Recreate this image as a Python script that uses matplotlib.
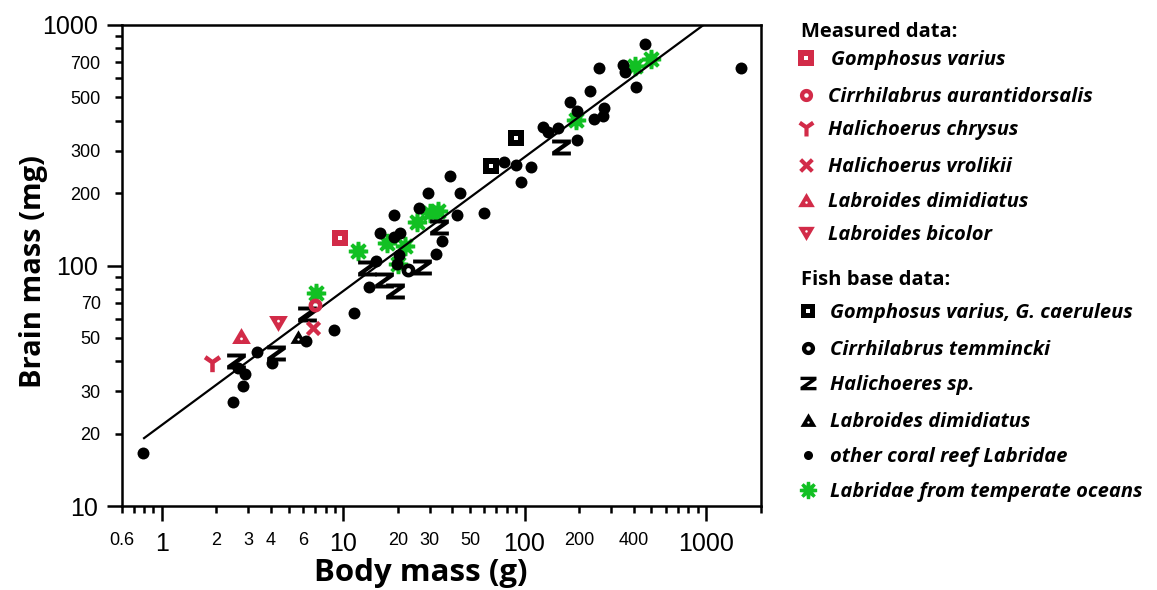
import matplotlib
matplotlib.use("Agg")
import matplotlib.pyplot as plt
import numpy as np
from matplotlib.path import Path
from matplotlib.ticker import FixedLocator, FuncFormatter

# ---------------- data (body mass g, brain mass mg) ----------------
other_x = [0.79, 2.48, 2.81, 2.88, 2.62, 3.34, 4.04, 6.21, 8.92, 11.5, 13.9, 15.1,
           15.9, 19.0, 20.7, 19.0, 20.2, 19.9, 26.1, 29.4, 38.6, 44.0, 42.2, 35.1,
           32.4, 59.7, 76.9, 89.2, 108, 95.1, 126, 135, 153, 194, 178, 195, 230,
           243, 274, 272, 259, 347, 357, 414, 460, 1563]
other_y = [16.6, 27.0, 31.5, 35.4, 37.5, 43.7, 39.4, 48.6, 53.7, 63.7, 81.6, 104,
           136, 132, 136, 162, 111, 101, 173, 200, 236, 200, 162, 127,
           112, 165, 269, 262, 256, 222, 378, 358, 372, 332, 477, 439, 532,
           406, 450, 420, 665, 682, 639, 551, 830, 661]

temperate_x = [7.06, 12.1, 17.5, 22.0, 20.0, 25.4, 30.2, 33.4, 193, 404, 495]
temperate_y = [76.6, 115, 124, 120, 101, 152, 166, 169, 403, 675, 720]

halichoeres_x = [2.56, 4.25, 6.34, 13.6, 16.9, 19.3, 27.1, 33.6, 158]
halichoeres_y = [40.1, 43.3, 62.9, 97.4, 87.1, 78.3, 98.9, 145, 312]

gomphosus_fb_x = [65.0, 89.2]
gomphosus_fb_y = [260, 338]
cirrhilabrus_fb_x = [22.8]
cirrhilabrus_fb_y = [95.8]
labroides_fb_x = [5.61]
labroides_fb_y = [50.4]

m_gomphosus_x, m_gomphosus_y = [9.57], [130.5]
m_cirrhilabrus_x, m_cirrhilabrus_y = [6.97], [68.5]
m_chrysus_x, m_chrysus_y = [1.89], [39.4]
m_vrolikii_x, m_vrolikii_y = [6.83], [54.8]
m_dimidiatus_x, m_dimidiatus_y = [2.72], [50.9]
m_bicolor_x, m_bicolor_y = [4.40], [57.5]

# allometric fit: brain = coef * body ** slope
fit_coef = 21.7
fit_slope = 0.557
fit_range = [0.79, 1000]

x_major = [1, 10, 100, 1000]
x_minor = [0.6, 0.7, 0.8, 0.9, 2, 3, 4, 5, 6, 7, 8, 9, 20, 30, 40, 50, 60, 70, 80, 90,
           200, 300, 400, 500, 600, 700, 800, 900, 2000]
x_minor_labelled = [0.6, 2, 3, 4, 6, 20, 30, 50, 200, 400]
y_major = [10, 100, 1000]
y_minor = [20, 30, 40, 50, 60, 70, 80, 90, 200, 300, 400, 500, 600, 700, 800, 900]
y_minor_labelled = [20, 30, 50, 70, 200, 300, 500, 700]

legend_measured = ["Gomphosus varius", "Cirrhilabrus aurantidorsalis", "Halichoerus chrysus",
                   "Halichoerus vrolikii", "Labroides dimidiatus", "Labroides bicolor"]
legend_fishbase = ["Gomphosus varius, G. caeruleus", "Cirrhilabrus temmincki", "Halichoeres sp.",
                   "Labroides dimidiatus", "other coral reef Labridae",
                   "Labridae from temperate oceans"]

RED = "#d22b48"
GREEN = "#12c023"
BLACK = "#000000"

# ---------------- marker shapes ----------------
def make_path(*rings):
    verts, codes = [], []
    for ring in rings:
        ring = list(ring)
        verts += ring + [ring[0]]
        codes += [Path.MOVETO] + [Path.LINETO] * (len(ring) - 1) + [Path.CLOSEPOLY]
    return Path(verts, codes)


def ring_circle(r, n=48, cx=0.0, cy=0.0, reverse=False):
    t = np.linspace(0, 2 * np.pi, n, endpoint=False)
    if reverse:
        t = t[::-1]
    return [(cx + r * np.cos(a), cy + r * np.sin(a)) for a in t]


def square_hole(h):
    return make_path([(-1, -1), (1, -1), (1, 1), (-1, 1)],
                     [(-h, -h), (-h, h), (h, h), (h, -h)])


SQ_RED = square_hole(0.27)
SQ_BLK = square_hole(0.30)
CIRC_HOLE = make_path(ring_circle(1.0), ring_circle(0.34, 24, reverse=True))
TRI_UP = make_path([(0, 0.9), (-1, -0.8), (1, -0.8)], ring_circle(0.15, 16, 0, -0.25, True))
TRI_DN = make_path([(0, -0.9), (1, 0.8), (-1, 0.8)], ring_circle(0.15, 16, 0, 0.25, True))
Z_MARK = make_path([(-1, 0.85), (1, 0.85), (1, 0.43), (-0.22, -0.43), (1, -0.43), (1, -0.85),
                    (-1, -0.85), (-1, -0.43), (0.22, 0.43), (-1, 0.43)][::-1])
Y_MARK = make_path([(-0.26, -1), (0.26, -1), (0.26, 0.0), (1, 0.5), (0.7, 0.95),
                    (0, 0.45), (-0.7, 0.95), (-1, 0.5), (-0.26, 0.0)][::-1])
X_MARK = make_path([(-0.6, -1), (0, -0.4), (0.6, -1), (1, -0.6), (0.4, 0), (1, 0.6),
                    (0.6, 1), (0, 0.4), (-0.6, 1), (-1, 0.6), (-0.4, 0), (-1, -0.6)])
_ast = []
for k in range(8):
    a = np.deg2rad(k * 45)
    d = np.deg2rad(11)
    _ast.append((np.cos(a - d), np.sin(a - d)))
    _ast.append((np.cos(a + d), np.sin(a + d)))
    b = a + np.deg2rad(22.5)
    _ast.append((0.58 * np.cos(b), 0.58 * np.sin(b)))
ASTER = make_path(_ast)

# ---------------- figure ----------------
fig = plt.figure(figsize=(11.57, 5.90), dpi=100)
ax = fig.add_axes([121.5 / 1157, 1 - 506 / 590, (760.5 - 121.5) / 1157, (506 - 25) / 590])
ax.set_xscale("log")
ax.set_yscale("log")
ax.set_xlim(0.6, 2000)
ax.set_ylim(10, 1000)


def pts(x, y, marker, ms, color, z, mew=0, target=None):
    target = target if target is not None else ax
    target.plot(x, y, ls="none", marker=marker, ms=ms, mfc=color, mec=color, mew=mew,
                zorder=z, clip_on=False)


pts(temperate_x, temperate_y, ASTER, 14, GREEN, 3)
pts(other_x, other_y, "o", 8.6, BLACK, 4)
xf = np.array(fit_range)
ax.plot(xf, fit_coef * xf ** fit_slope, color="black", lw=1.6, zorder=4.5, solid_capstyle="butt")
pts(halichoeres_x, halichoeres_y, Z_MARK, 13.5, BLACK, 5)
pts(gomphosus_fb_x, gomphosus_fb_y, SQ_BLK, 11, BLACK, 5)
pts(cirrhilabrus_fb_x, cirrhilabrus_fb_y, CIRC_HOLE, 10, BLACK, 5)
pts(labroides_fb_x, labroides_fb_y, TRI_UP, 11.5, BLACK, 5)
pts(m_gomphosus_x, m_gomphosus_y, SQ_RED, 12, RED, 6)
pts(m_cirrhilabrus_x, m_cirrhilabrus_y, CIRC_HOLE, 10, RED, 6)
pts(m_chrysus_x, m_chrysus_y, Y_MARK, 12.5, RED, 6)
pts(m_vrolikii_x, m_vrolikii_y, X_MARK, 11, RED, 6)
pts(m_dimidiatus_x, m_dimidiatus_y, TRI_UP, 13.5, RED, 6)
pts(m_bicolor_x, m_bicolor_y, TRI_DN, 13.5, RED, 6)

# ---------------- axes styling ----------------
for s in ax.spines.values():
    s.set_linewidth(1.8)

TICKFONT = "Liberation Sans"


def fmt_num(v):
    return "%g" % v


ax.xaxis.set_major_locator(FixedLocator(x_major))
ax.xaxis.set_minor_locator(FixedLocator(x_minor))
ax.yaxis.set_major_locator(FixedLocator(y_major))
ax.yaxis.set_minor_locator(FixedLocator(y_minor))
ax.xaxis.set_major_formatter(FuncFormatter(lambda v, p: fmt_num(v)))
ax.yaxis.set_major_formatter(FuncFormatter(lambda v, p: fmt_num(v)))
ax.xaxis.set_minor_formatter(FuncFormatter(
    lambda v, p: fmt_num(v) if any(abs(v - m) / m < 1e-6 for m in x_minor_labelled) else ""))
ax.yaxis.set_minor_formatter(FuncFormatter(
    lambda v, p: fmt_num(v) if any(abs(v - m) / m < 1e-6 for m in y_minor_labelled) else ""))

ax.tick_params(axis="both", which="both", direction="out", width=1.8, top=False, right=False)
ax.tick_params(axis="both", which="major", length=11)
ax.tick_params(axis="both", which="minor", length=5)
ax.tick_params(axis="x", which="major", labelsize=18, pad=8)
ax.tick_params(axis="x", which="minor", labelsize=13, pad=14)
ax.tick_params(axis="y", which="major", labelsize=18, pad=6)
ax.tick_params(axis="y", which="minor", labelsize=13, pad=10)
for lab in ax.get_xticklabels(which="both") + ax.get_yticklabels(which="both"):
    lab.set_fontfamily(TICKFONT)

# ---------------- overlay for labels and legend (pixel coordinates) ----------------
lax = fig.add_axes([0, 0, 1, 1], facecolor="none")
lax.set_xlim(0, 1157)
lax.set_ylim(590, 0)
lax.axis("off")

LBL = dict(family="Open Sans", weight="bold", color="black")
lax.text(421, 581, "Body mass (g)", ha="center", va="baseline", fontsize=22.5, **LBL)
lax.text(34, 272, "Brain mass (mg)", ha="center", va="center", rotation=90, fontsize=21, **LBL)

LEG = dict(family="Open Sans", weight="bold", style="italic", fontsize=14.5, color="black")
HEAD = dict(family="Open Sans", weight="bold", fontsize=14.5, color="black")

lax.text(801, 36.7, "Measured data:", ha="left", va="baseline", **HEAD)
lax.text(801, 285, "Fish base data:", ha="left", va="baseline", **HEAD)

meas_base = [65, 101.7, 135, 171.7, 206.7, 240]
meas_marks = [(SQ_RED, 11), (CIRC_HOLE, 9.5), (Y_MARK, 11.5), (X_MARK, 10.5), (TRI_UP, 12),
              (TRI_DN, 12)]
meas_textx = [831, 828, 828, 828, 828, 828]
for name, yb, (mk, ms), tx in zip(legend_measured, meas_base, meas_marks, meas_textx):
    pts([806], [yb - 7], mk, ms, RED, 5, target=lax)
    lax.text(tx, yb, name, ha="left", va="baseline", **LEG)

fb_base = [318.3, 355, 390, 426.7, 461.7, 496.7]
fb_marks = [(SQ_BLK, 10.5, BLACK), (CIRC_HOLE, 9.5, BLACK), (Z_MARK, 11.5, BLACK),
            (TRI_UP, 11.5, BLACK), ("o", 6.5, BLACK), (ASTER, 12.5, GREEN)]
for name, yb, (mk, ms, col) in zip(legend_fishbase, fb_base, fb_marks):
    pts([808], [yb - 7], mk, ms, col, 5, target=lax)
    lax.text(830, yb, name, ha="left", va="baseline", **LEG)

fig.savefig("out.png", dpi=100)
